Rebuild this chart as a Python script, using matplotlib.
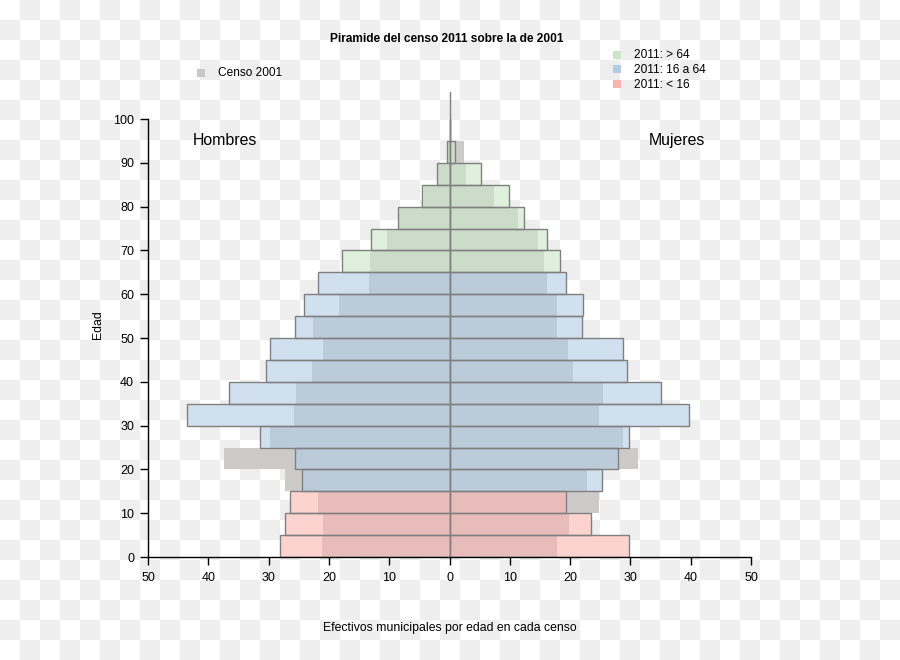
import numpy as np
import matplotlib
matplotlib.use("Agg")
import matplotlib.pyplot as plt
from matplotlib.patches import Rectangle

plt.rcParams['font.family'] = ['Liberation Sans', 'DejaVu Sans']

# grupos de edad quinquenales (limite inferior)
edades = [0, 5, 10, 15, 20, 25, 30, 35, 40, 45, 50, 55, 60, 65, 70, 75, 80, 85, 90, 95]
hombres_2011 = [28.1, 27.2, 26.4, 24.4, 25.7, 31.5, 43.6, 36.5, 30.5, 29.7,
                25.6, 24.1, 21.8, 17.9, 13.0, 8.5, 4.5, 2.0, 0.35, 0.0]
hombres_2001 = [21.1, 21.0, 21.8, 27.3, 37.4, 29.8, 25.8, 25.4, 22.8, 21.0,
                22.6, 18.3, 13.3, 13.2, 10.4, 8.4, 4.2, 1.9, 0.3, 0.0]
mujeres_2011 = [29.7, 23.4, 19.4, 25.3, 28.0, 29.8, 39.8, 35.1, 29.5, 28.7,
                21.9, 22.2, 19.4, 18.4, 16.2, 12.4, 9.9, 5.3, 0.86, 0.1]
mujeres_2001 = [17.8, 19.9, 24.8, 22.8, 31.2, 28.8, 24.8, 25.5, 20.4, 19.6,
                17.9, 17.8, 16.1, 15.7, 14.6, 11.3, 7.4, 2.7, 2.35, 0.0]
grupos = ["2011: > 64", "2011: 16 a 64", "2011: < 16"]
xticks = [-50, -40, -30, -20, -10, 0, 10, 20, 30, 40, 50]
xtick_labels = ["50", "40", "30", "20", "10", "0", "10", "20", "30", "40", "50"]
yticks = [0, 10, 20, 30, 40, 50, 60, 70, 80, 90, 100]

edades = np.array(edades)
h11, h01 = np.array(hombres_2011), np.array(hombres_2001)
m11, m01 = np.array(mujeres_2011), np.array(mujeres_2001)

# colores: claro = solo 2011, oscuro = solapado con 2001
claro = {'verde': '#dff0dc', 'azul': '#d0e0ee', 'rosa': '#fcd3cf'}
oscuro = {'verde': '#cbdcc9', 'azul': '#bccbd9', 'rosa': '#e8bcbb'}
leyenda = {'verde': '#c8e6c3', 'azul': '#b1cbe3', 'rosa': '#f8b4ae'}
gris = '#cdcaca'
borde = '#808080'

def grupo(e):
    if e < 15:
        return 'rosa'
    if e < 65:
        return 'azul'
    return 'verde'

col_claro = [claro[grupo(e)] for e in edades]
col_oscuro = [oscuro[grupo(e)] for e in edades]

fig = plt.figure(figsize=(9, 6.6), dpi=100)

# fondo a cuadros
bg = fig.add_axes([0, 0, 1, 1])
cuadros = (np.add.outer(np.arange(33), np.arange(45)) % 2) * -17 + 255
bg.imshow(cuadros, cmap='gray', vmin=0, vmax=255, interpolation='nearest',
          aspect='auto', extent=[0, 900, 660, 0])
bg.set_axis_off()

ax = fig.add_axes([148 / 900, 103 / 660, 603 / 900, 464.7 / 660])
ax.set_facecolor('none')
ax.set_xlim(-50, 50)
ax.set_ylim(0, 106.1)

for signo, v11, v01 in [(-1, h11, h01), (1, m11, m01)]:
    ax.barh(edades, signo * v01, height=5, align='edge', color=gris, lw=0)
    ax.barh(edades, signo * v11, height=5, align='edge', color=col_claro, lw=0)
    ax.barh(edades, signo * np.minimum(v11, v01), height=5, align='edge',
            color=col_oscuro, lw=0)
    ax.barh(edades, signo * v11, height=5, align='edge', facecolor='none',
            edgecolor=borde, lw=1.0)

ax.axvline(0, color=borde, lw=1.0)

for s in ['top', 'right']:
    ax.spines[s].set_visible(False)
ax.spines['left'].set_bounds(0, 100)
ax.spines['bottom'].set_bounds(-50, 50)
ax.spines['left'].set_linewidth(1.0)
ax.spines['bottom'].set_linewidth(1.0)
ax.set_xticks(xticks)
ax.set_xticklabels(xtick_labels)
ax.set_yticks(yticks)
ax.tick_params(axis='both', length=5.5, width=1.0, labelsize=9, color='black')
ax.tick_params(axis='x', pad=5.5)
ax.tick_params(axis='y', pad=4.5)

ax.set_xlabel("Efectivos municipales por edad en cada censo", fontsize=8.8)
ax.xaxis.set_label_coords(0.5, (557 - 628) / 464.7)
ax.xaxis.label.set_va('center')
ax.set_ylabel("Edad", fontsize=8.8)
ax.yaxis.set_label_coords((98 - 148) / 603, 0.5)
ax.yaxis.label.set_va('center')

ax.text(-37.2, 95.2, "Hombres", fontsize=11.4, ha='center', va='center')
ax.text(37.7, 95.2, "Mujeres", fontsize=11.4, ha='center', va='center')

fig.text(447 / 900, 1 - 39 / 660, "Piramide del censo 2011 sobre la de 2001",
         fontsize=8.6, fontweight='bold', ha='center', va='center')

# leyendas
def entrada(x, y, color, texto):
    fig.patches.append(Rectangle((x / 900, 1 - (y + 4) / 660), 8 / 900, 8 / 660,
                                 transform=fig.transFigure, color=color, lw=0))
    fig.text((x + 21) / 900, 1 - (y + 0.5) / 660, texto, fontsize=8.6,
             ha='left', va='center')

entrada(197, 72.5, '#c8c8c8', "Censo 2001")
for i, k in enumerate(['verde', 'azul', 'rosa']):
    entrada(613, 54.5 + i * 14.8, leyenda[k], grupos[i])

fig.savefig("out.png", dpi=100)
